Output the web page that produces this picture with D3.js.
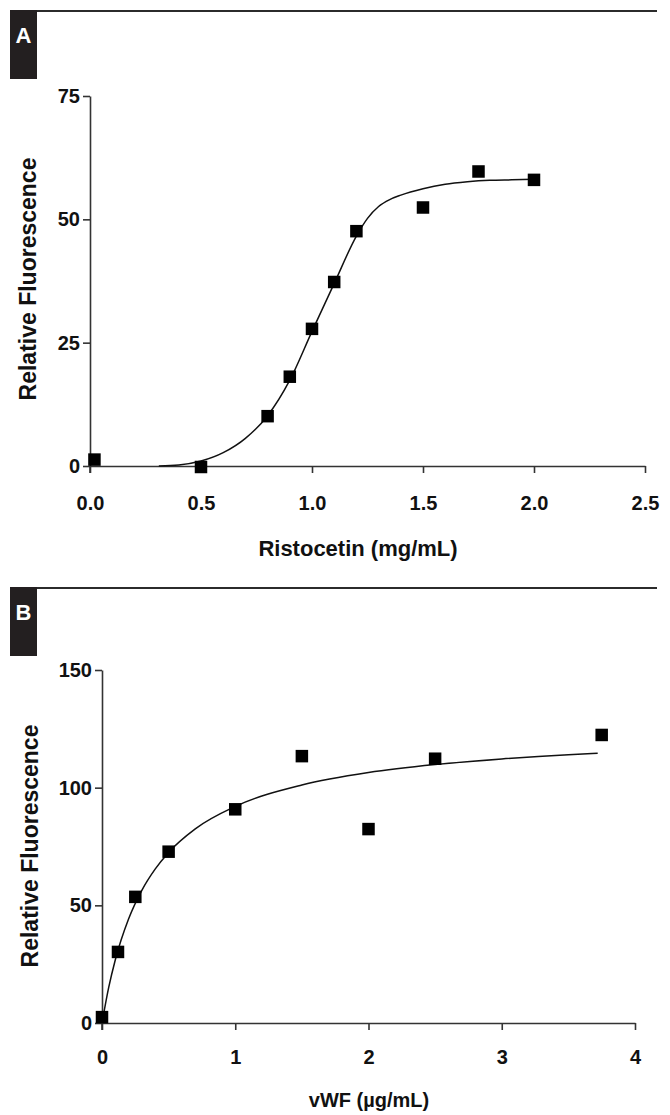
<!DOCTYPE html>
<html>
<head>
<meta charset="utf-8">
<script src="https://cdn.jsdelivr.net/npm/d3@7"></script>
<style>
  html, body { margin: 0; padding: 0; background: #fff; }
  svg { display: block; }
  text { font-family: "Liberation Sans", Arial, sans-serif; font-weight: bold; fill: #111; }
</style>
</head>
<body>
<svg id="chart" width="670" height="1115"></svg>
<script>
// ---- Panel A data ----
const ristocetin = [0.02, 0.5, 0.8, 0.9, 1.0, 1.1, 1.2, 1.5, 1.75, 2.0];
const fluorescenceA = [1.3, -0.2, 10.1, 18.1, 27.8, 37.3, 47.6, 52.4, 59.7, 58.0];
const fitAX = [0.31, 0.4, 0.5, 0.6, 0.7, 0.8, 0.9, 1.0, 1.1, 1.2, 1.25, 1.3, 1.35, 1.4, 1.5, 1.6, 1.7, 1.8, 1.9, 2.0];
const fitAY = [0, 0.2, 1.0, 2.7, 5.6, 10.2, 17.4, 27.3, 37.0, 46.6, 50.2, 52.6, 54.0, 54.9, 56.2, 57.1, 57.6, 57.9, 58.0, 58.1];
const xTicksA = [0, 0.5, 1.0, 1.5, 2.0, 2.5];
const yTicksA = [0, 25, 50, 75];

// ---- Panel B data ----
const vwf = [0, 0.12, 0.25, 0.5, 1.0, 1.5, 2.0, 2.5, 3.75];
const fluorescenceB = [2.5, 30.2, 53.6, 72.8, 90.8, 113.4, 82.4, 112.3, 122.4];
const fitBX = [0, 0.05, 0.1, 0.2, 0.3, 0.4, 0.5, 0.7, 1.0, 1.5, 2.0, 2.5, 3.0, 3.5, 3.72];
const fitBY = [0, 15.0, 26.9, 44.3, 56.5, 65.5, 72.5, 82.5, 92.0, 101.1, 106.4, 109.8, 112.2, 114.0, 114.6];
const xTicksB = [0, 1, 2, 3, 4];
const yTicksB = [0, 50, 100, 150];

const svg = d3.select("#chart");

function panel(cfg) {
  const g = svg.append("g");
  // header rule + letter box
  g.append("line").attr("x1", cfg.boxX1).attr("x2", 657).attr("y1", cfg.headY + 1).attr("y2", cfg.headY + 1)
    .attr("stroke", "#2b2b2b").attr("stroke-width", 2.2);
  g.append("rect").attr("x", 10).attr("y", cfg.headY).attr("width", cfg.boxX1 - 10).attr("height", 69)
    .attr("fill", "#231f20");
  g.append("text").attr("x", (10 + cfg.boxX1) / 2).attr("y", cfg.headY + 33)
    .attr("text-anchor", "middle").style("fill", "#fff").style("font-size", "22px").text(cfg.letter);

  const x = d3.scaleLinear().domain(cfg.xDomain).range(cfg.xRange);
  const y = d3.scaleLinear().domain(cfg.yDomain).range(cfg.yRange);

  const xAxis = d3.axisBottom(x).tickValues(cfg.xTicks).tickSize(7).tickSizeOuter(0).tickPadding(cfg.xPad)
    .tickFormat(cfg.xFmt);
  const yAxis = d3.axisLeft(y).tickValues(cfg.yTicks).tickSize(7).tickSizeOuter(0).tickPadding(3)
    .tickFormat(d3.format("d"));

  const gx = g.append("g").attr("transform", `translate(0,${cfg.yRange[0]})`).call(xAxis);
  const gy = g.append("g").attr("transform", `translate(${cfg.xRange[0]},0)`).call(yAxis);
  [gx, gy].forEach(a => {
    a.select(".domain").attr("stroke", "#333").attr("stroke-width", 1.6);
    a.selectAll(".tick line").attr("stroke", "#333").attr("stroke-width", 1.6);
    a.selectAll(".tick text").style("font-size", "20px").style("fill", "#111")
      .style("font-family", '"Liberation Sans", Arial, sans-serif').style("font-weight", "bold");
  });
  // extend y-axis down to tick length
  g.append("line").attr("x1", cfg.xRange[0]).attr("x2", cfg.xRange[0])
    .attr("y1", cfg.yRange[0]).attr("y2", cfg.yRange[0] + 7).attr("stroke", "#333").attr("stroke-width", 1.6);

  // fit curve
  const fit = cfg.fitX.map((v, i) => [v, cfg.fitY[i]]);
  g.append("path").datum(fit)
    .attr("d", d3.line().x(d => x(d[0])).y(d => y(d[1])).curve(d3.curveMonotoneX))
    .attr("fill", "none").attr("stroke", "#111").attr("stroke-width", 1.5);

  // points
  const s = 12.5;
  g.selectAll("rect.pt").data(cfg.px.map((v, i) => [v, cfg.py[i]])).join("rect")
    .attr("class", "pt")
    .attr("x", d => x(d[0]) - s / 2).attr("y", d => y(d[1]) - s / 2)
    .attr("width", s).attr("height", s).attr("fill", "#000");

  // titles
  g.append("text").attr("x", cfg.xTitleX).attr("y", cfg.xTitleY).attr("text-anchor", "middle")
    .style("font-size", cfg.xTitleSize).text(cfg.xTitle);
  g.append("text").attr("transform", `translate(${cfg.yTitleX},${cfg.yTitleY}) rotate(-90)`)
    .attr("text-anchor", "middle").style("font-size", "23px").text("Relative Fluorescence");
}

panel({
  letter: "A", headY: 10, boxX1: 37,
  xDomain: [0, 2.5], xRange: [90, 645], yDomain: [0, 75], yRange: [466, 96],
  xTicks: xTicksA, yTicks: yTicksA, xFmt: d3.format(".1f"), xPad: 23,
  fitX: fitAX, fitY: fitAY, px: ristocetin, py: fluorescenceA,
  xTitle: "Ristocetin (mg/mL)", xTitleX: 358, xTitleY: 556, xTitleSize: "22px",
  yTitleX: 36, yTitleY: 279
});

panel({
  letter: "B", headY: 587, boxX1: 37,
  xDomain: [0, 4], xRange: [102, 635], yDomain: [0, 150], yRange: [1023, 670],
  xTicks: xTicksB, yTicks: yTicksB, xFmt: d3.format("d"), xPad: 20,
  fitX: fitBX, fitY: fitBY, px: vwf, py: fluorescenceB,
  xTitle: "vWF (\u00b5g/mL)", xTitleX: 369, xTitleY: 1107, xTitleSize: "20px",
  yTitleX: 38, yTitleY: 846
});
</script>
</body>
</html>
